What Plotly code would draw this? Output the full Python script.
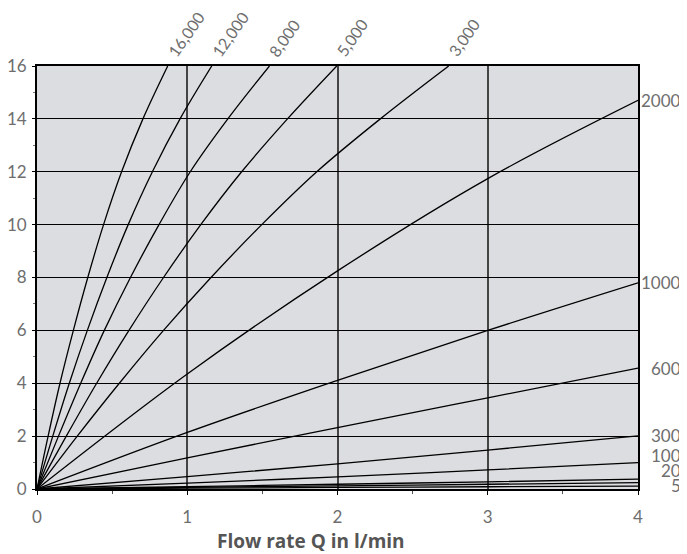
import plotly.graph_objects as go

# ---------------- data ----------------
# High-viscosity curves: flow rate Q (x) at which each pressure level (y) is reached
dp_levels = [0, 2, 4, 6, 8, 10, 12, 14, 16]
q_16000 = [0, 0.074, 0.153, 0.242, 0.338, 0.443, 0.563, 0.705, 0.870]
q_12000 = [0, 0.105, 0.215, 0.335, 0.465, 0.607, 0.768, 0.952, 1.163]
q_8000 = [0, 0.143, 0.291, 0.448, 0.622, 0.812, 1.020, 1.270, 1.547]
q_5000 = [0, 0.195, 0.397, 0.612, 0.842, 1.090, 1.362, 1.667, 1.995]
q_3000 = [0, 0.268, 0.548, 0.842, 1.158, 1.496, 1.862, 2.285, 2.740]

# Lower-viscosity curves: pressure (y) at flow rates 0..4 l/min
q_grid = [0, 1, 2, 3, 4]
dp_2000 = [0, 4.35, 8.25, 11.74, 14.70]
dp_1000 = [0, 2.14, 4.11, 6.00, 7.80]
dp_600 = [0, 1.18, 2.32, 3.45, 4.57]
dp_300 = [0, 0.47, 0.95, 1.47, 2.01]
dp_100 = [0, 0.22, 0.46, 0.72, 1.00]
dp_20 = [0, 0.09, 0.18, 0.27, 0.37]
dp_10 = [0, 0.06, 0.12, 0.18, 0.24]
dp_5 = [0, 0.03, 0.06, 0.085, 0.11]

top_labels = ["16,000", "12,000", "8,000", "5,000", "3,000"]
right_labels = ["2000", "1000", "600", "300", "100", "20", "5"]
right_label_y = [14.7, 7.8, 4.56, 2.03, 1.27, 0.70, 0.14]

x_ticks = [0, 1, 2, 3, 4]
y_ticks = [0, 2, 4, 6, 8, 10, 12, 14, 16]
x_title = "Flow rate Q in l/min"

# ---------------- figure ----------------
fig = go.Figure()
line_style = dict(color="black", width=1.3, shape="spline", smoothing=1.0)

high_curves = [q_16000, q_12000, q_8000, q_5000, q_3000]
for qs in high_curves:
    fig.add_trace(go.Scatter(x=qs, y=dp_levels, mode="lines", line=line_style,
                             hoverinfo="skip", showlegend=False))

low_curves = [dp_2000, dp_1000, dp_600, dp_300, dp_100, dp_20, dp_10, dp_5]
for dps in low_curves:
    fig.add_trace(go.Scatter(x=q_grid, y=dps, mode="lines", line=line_style,
                             hoverinfo="skip", showlegend=False))

FONT = "Lato, 'Open Sans', sans-serif"
label_font = dict(family=FONT, size=16, color="#6e6e6e")
right_font = dict(family=FONT, size=17, color="#6e6e6e")

annotations = []
for qs, txt in zip(high_curves, top_labels):
    annotations.append(dict(x=qs[-1], y=dp_levels[-1], xref="x", yref="y",
                            text=txt, showarrow=False, textangle=-55,
                            xanchor="left", yanchor="bottom",
                            xshift=-7, yshift=3, font=label_font))
for txt, yv in zip(right_labels, right_label_y):
    annotations.append(dict(x=4, y=yv, xref="x", yref="y", text=txt,
                            showarrow=False, xanchor="right", yanchor="middle",
                            xshift=45, font=right_font))
annotations.append(dict(x=0.456, y=-0.123, xref="paper", yref="paper",
                        text="<b>" + x_title + "</b>", showarrow=False,
                        xanchor="center", yanchor="middle",
                        font=dict(family="'Open Sans', Lato, sans-serif",
                                  size=19, color="#555555")))

# the page body adds an 8px offset, so the figure is sized/margined to compensate
fig.update_layout(
    width=679, height=546,
    margin=dict(l=29, r=49, t=58, b=65, autoexpand=False),
    paper_bgcolor="white",
    plot_bgcolor="#dcdde0",
    annotations=annotations,
    showlegend=False,
)

fig.update_xaxes(
    range=[0, 4], tickvals=x_ticks, ticktext=[str(v) for v in x_ticks],
    automargin=False,
    showgrid=True, gridcolor="#444444", gridwidth=1.5,
    showline=True, linecolor="black", linewidth=1.8, mirror=True,
    ticks="outside", ticklen=4, tickcolor="black", tickwidth=1,
    minor=dict(dtick=0.5, tick0=0, ticks="outside", ticklen=3,
               tickcolor="#555555", showgrid=False),
    zeroline=False, ticklabelstandoff=8,
    tickfont=dict(family=FONT, size=17, color="#6e6e6e"),
)
fig.update_yaxes(
    range=[0, 16], tickvals=y_ticks, ticktext=[str(v) for v in y_ticks],
    automargin=False,
    showgrid=True, gridcolor="black", gridwidth=1.2,
    showline=True, linecolor="black", linewidth=1.8, mirror=True,
    ticks="outside", ticklen=3, tickcolor="black", tickwidth=1,
    minor=dict(dtick=1, tick0=0, ticks="outside", ticklen=2,
               tickcolor="#777777", showgrid=False),
    zeroline=False, ticklabelstandoff=2,
    tickfont=dict(family=FONT, size=17, color="#6e6e6e"),
)

fig.write_html("out.html")
